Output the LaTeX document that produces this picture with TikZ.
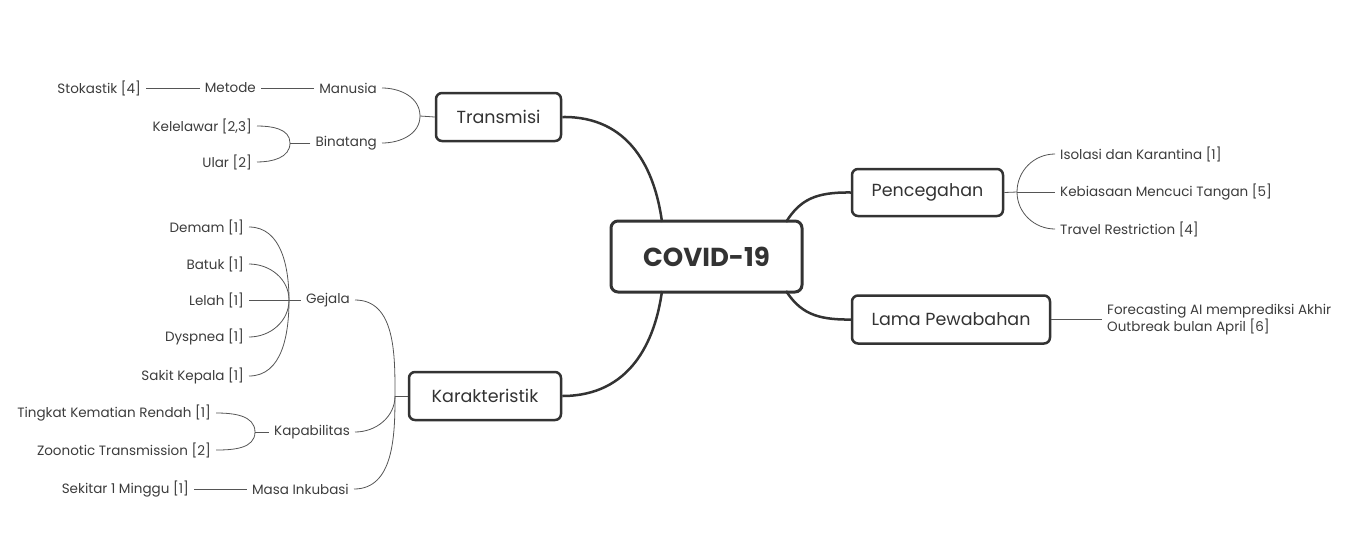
\documentclass[tikz,border=0pt]{standalone}
\usepackage{fontspec}
\setmainfont{Poppins}
\definecolor{boxline}{HTML}{333333}
\definecolor{textgray}{HTML}{3C3C3C}
\definecolor{linegray}{HTML}{555555}
\begin{document}
\begin{tikzpicture}[x=1pt,y=-1pt,
  topic/.style={draw=boxline, line width=2.5pt, rounded corners=6pt, fill=white, text=boxline, font=\fontsize{17.5}{20}\selectfont, inner sep=0pt},
  central/.style={draw=boxline, line width=3pt, rounded corners=7pt, fill=white, text=boxline, font=\fontsize{26}{30}\selectfont\bfseries, inner sep=0pt},
  leaf/.style={text=textgray, font=\fontsize{13.5}{16}\selectfont, inner xsep=5pt, inner ysep=2pt},
  mainline/.style={draw=boxline, line width=2.5pt},
  subline/.style={draw=linegray, line width=0.8pt}]
\useasboundingbox (0,0) rectangle (1348,555);
% main topics
\node[central, minimum width=191pt, minimum height=71pt] (covid) at (706.5,256.5) {COVID-19};
\node[topic, minimum width=125pt, minimum height=48pt] (trans) at (498.5,117) {Transmisi};
\node[topic, minimum width=152pt, minimum height=48pt] (karak) at (485,396) {Karakteristik};
\node[topic, minimum width=151pt, minimum height=47pt] (pence) at (927.5,192.5) {Pencegahan};
\node[topic, minimum width=198pt, minimum height=48pt] (lama) at (951,319.5) {Lama Pewabahan};
% main connectors
\coordinate (ctl) at (662,222);
\coordinate (cbl) at (662,291);
\coordinate (ctr) at (786,222);
\coordinate (cbr) at (786,291);
\draw[mainline] (trans.east) .. controls (630,116) and (655,170) .. (ctl);
\draw[mainline] (karak.east) .. controls (630,396) and (655,342) .. (cbl);
\draw[mainline] (pence.west) .. controls (815,192) and (800,200) .. (ctr);
\draw[mainline] (lama.west) .. controls (815,320) and (800,312) .. (cbr);
% Transmisi branch
\node[leaf, anchor=east] (manusia) at (382,88) {Manusia};
\node[leaf, anchor=east] (metode) at (261,88) {Metode};
\node[leaf, anchor=east] (stok) at (146,88) {Stokastik [4]};
\node[leaf, anchor=east] (binatang) at (382,143) {Binatang};
\node[leaf, anchor=east] (kelelawar) at (257,126) {Kelelawar [2,3]};
\node[leaf, anchor=east] (ular) at (257,162) {Ular [2]};
\coordinate (jt) at (420,116);
\draw[subline] (trans.west) -- (jt);
\draw[subline] (jt) to[out=90,in=0] (manusia.east);
\draw[subline] (jt) to[out=-90,in=0] (binatang.east);
\draw[subline] (manusia.west) -- (metode.east);
\draw[subline] (metode.west) -- (stok.east);
\coordinate (jb) at (290,143);
\draw[subline] (binatang.west) -- (jb);
\draw[subline] (jb) to[out=90,in=0] (kelelawar.east);
\draw[subline] (jb) to[out=-90,in=0] (ular.east);
% Karakteristik branch
\node[leaf, anchor=east] (gejala) at (355,300) {Gejala};
\node[leaf, anchor=east] (kapab) at (355,432) {Kapabilitas};
\node[leaf, anchor=east] (masa) at (354,489) {Masa Inkubasi};
\coordinate (jk) at (395,396);
\draw[subline] (karak.west) -- (jk);
\draw[subline] (jk) to[out=90,in=0] (gejala.east);
\draw[subline] (jk) to[out=-90,in=0] (kapab.east);
\draw[subline] (jk) to[out=-90,in=0] (masa.east);
\node[leaf, anchor=east] (demam) at (249,227) {Demam [1]};
\node[leaf, anchor=east] (batuk) at (249,264) {Batuk [1]};
\node[leaf, anchor=east] (lelah) at (249,300) {Lelah [1]};
\node[leaf, anchor=east] (dysp) at (249,337) {Dyspnea [1]};
\node[leaf, anchor=east] (sakit) at (249,376) {Sakit Kepala [1]};
\coordinate (jg) at (289,300);
\draw[subline] (gejala.west) -- (jg);
\draw[subline] (jg) to[out=90,in=0] (demam.east);
\draw[subline] (jg) to[out=90,in=0] (batuk.east);
\draw[subline] (jg) -- (lelah.east);
\draw[subline] (jg) to[out=-90,in=0] (dysp.east);
\draw[subline] (jg) to[out=-90,in=0] (sakit.east);
\node[leaf, anchor=east] (tingkat) at (216,413) {Tingkat Kematian Rendah [1]};
\node[leaf, anchor=east] (zoo) at (216,450) {Zoonotic Transmission [2]};
\coordinate (jc) at (255,432);
\draw[subline] (kapab.west) -- (jc);
\draw[subline] (jc) to[out=90,in=0] (tingkat.east);
\draw[subline] (jc) to[out=-90,in=0] (zoo.east);
\node[leaf, anchor=east] (sekitar) at (194,489) {Sekitar 1 Minggu [1]};
\draw[subline] (masa.west) -- (sekitar.east);
% Pencegahan branch
\node[leaf, anchor=west] (isolasi) at (1055,154) {Isolasi dan Karantina [1]};
\node[leaf, anchor=west] (kebiasaan) at (1055,192) {Kebiasaan Mencuci Tangan [5]};
\node[leaf, anchor=west] (travel) at (1055,229) {Travel Restriction [4]};
\coordinate (jp) at (1017,192);
\draw[subline] (pence.east) -- (jp);
\draw[subline] (jp) to[out=90,in=180] (isolasi.west);
\draw[subline] (jp) -- (kebiasaan.west);
\draw[subline] (jp) to[out=-90,in=180] (travel.west);
% Lama branch
\node[leaf, anchor=west, align=left, font=\fontsize{13.5}{17}\selectfont] (forecast) at (1102,319.5) {Forecasting AI memprediksi Akhir\\Outbreak bulan April [6]};
\draw[subline] (lama.east) -- (forecast.west);
\end{tikzpicture}
\end{document}
